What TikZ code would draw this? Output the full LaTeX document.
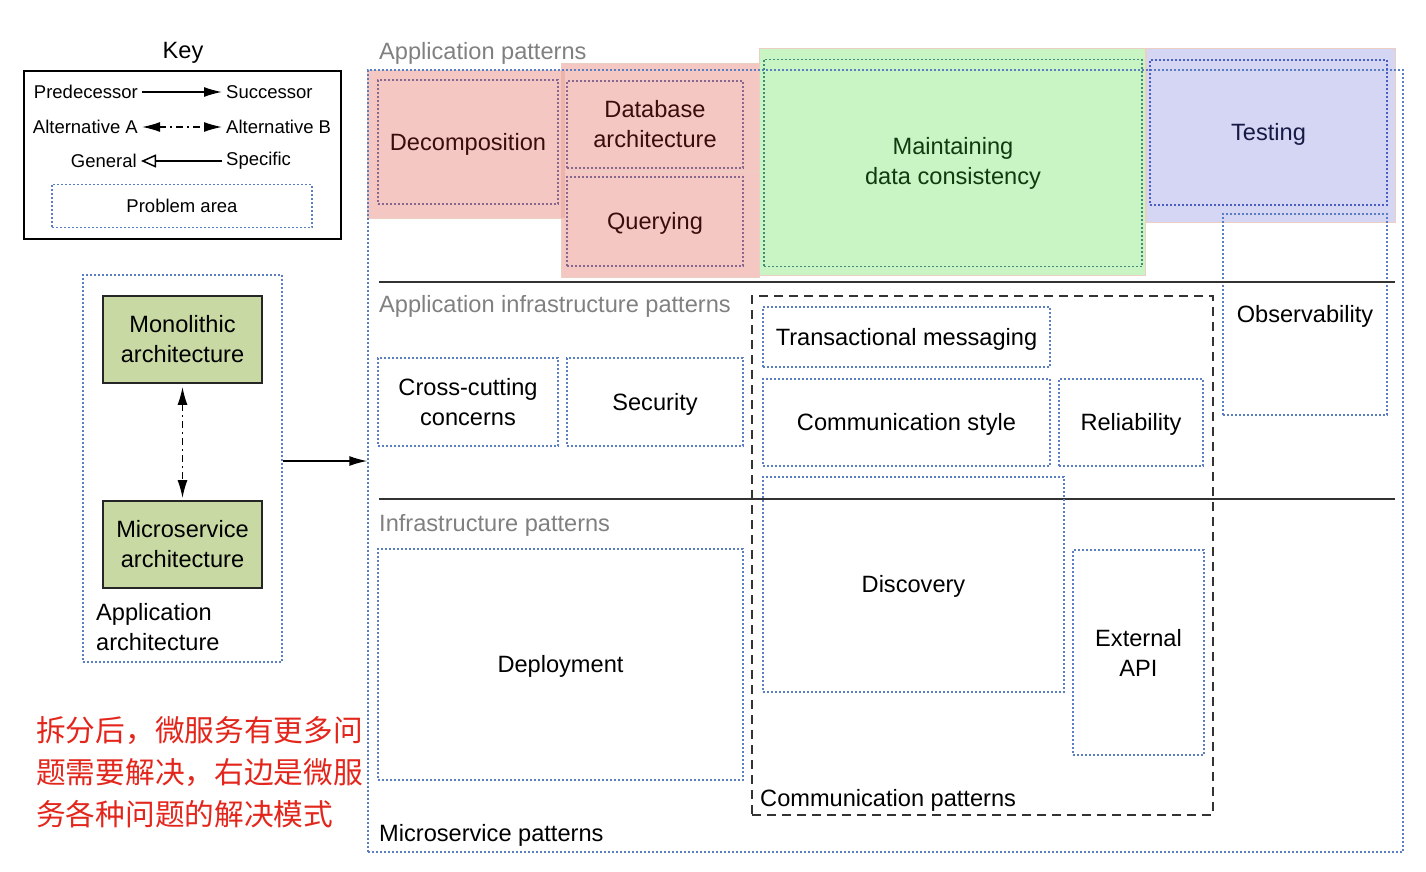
\documentclass[tikz,border=0pt]{standalone}
\usepackage{fontspec}
\setmainfont{Liberation Sans}
\newfontfamily\cjkfont{Noto Sans CJK SC}
\usetikzlibrary{arrows.meta}
\definecolor{pblue}{HTML}{5B7EC2}
\definecolor{pinkfill}{HTML}{F4C7C3}
\definecolor{pinkdark}{HTML}{EDB3AD}
\definecolor{pinkedge}{HTML}{EBCFC2}
\definecolor{greenfill}{HTML}{C9F5C4}
\definecolor{purplefill}{HTML}{D4D6F3}
\definecolor{olivefill}{HTML}{C8D9A3}
\definecolor{graytxt}{HTML}{808080}
\definecolor{cnred}{HTML}{E3261C}
\definecolor{linegray}{HTML}{333333}
\definecolor{pinkdot}{HTML}{85678F}
\definecolor{greendot}{HTML}{3F8C7A}
\definecolor{purpledot}{HTML}{4A5FC4}
\definecolor{pinktxt}{HTML}{3A0D0D}
\definecolor{greentxt}{HTML}{0E3B10}
\definecolor{purpletxt}{HTML}{161A45}
\newcommand\mylabfont{\fontsize{23.6}{30}\selectfont}
\newcommand\mykeyfont{\fontsize{18.5}{22}\selectfont}
\newcommand\mytopstrut{\rule{0pt}{21pt}}
\begin{document}
\begin{tikzpicture}[x=1pt,y=-1pt,
  every node/.style={inner sep=0pt},
  pabase/.style={draw=pblue, line width=1.4pt, dash pattern=on 1.8pt off 2.2pt, align=center},
  pa/.style={pabase, font=\mylabfont, execute at begin node=\mytopstrut},
  sz/.style 2 args={minimum width=#1, minimum height=#2},
  hsep/.style={draw=linegray, line width=2pt},
  lab/.style={font=\mylabfont, align=center},
  grayl/.style={font=\mylabfont, text=graytxt, anchor=west},
  keytxt/.style={font=\mykeyfont, inner sep=4pt},
  arch/.style={draw=black!85, line width=1.8pt, fill=olivefill, align=center, font=\mylabfont, execute at begin node=\mytopstrut},
  arrsolid/.style={line width=1.5pt, -{Latex[length=18pt,width=10pt]}},
  arrdd/.style={line width=1.5pt, {Latex[length=18pt,width=10pt]}-{Latex[length=18pt,width=10pt]}, dash pattern=on 7pt off 4pt on 2pt off 4pt},
  genarr/.style={line width=1.5pt, -{Triangle[open,length=15pt,width=13pt]}},
  region/.style={draw=pinkedge, line width=0.8pt},
  commbox/.style={draw=linegray, line width=1.8pt, dash pattern=on 9pt off 6pt}
]
\useasboundingbox (0,0) rectangle (1426,872);

% ---------- Key ----------
\node[font=\mylabfont] (keytitle) at (183,53) {Key};
\node[draw, line width=1.6pt, sz={317}{168}] (keybox) at (182.5,155) {};
\node[keytxt, anchor=east] (pred) at (142,92) {Predecessor};
\node[keytxt, anchor=west] (succ) at (222,92) {Successor};
\draw[arrsolid] (pred) -- (succ);
\node[keytxt, anchor=east] (altA) at (142,127) {Alternative A};
\node[keytxt, anchor=west] (altB) at (222,127) {Alternative B};
\draw[arrdd] (altA) -- (altB);
\node[keytxt, anchor=east] (general) at (141,161) {General};
\node[keytxt, anchor=west] (specific) at (222,161) {Specific};
\draw[genarr] (specific) -- (general);
\node[pabase, sz={260}{43}, font=\mykeyfont] (probarea) at (182,206) {Problem area};

% ---------- Left panel ----------
\node[pa, sz={199}{387}] (appbox) at (182.5,468.5) {};
\node[arch, sz={159}{87}] (mono) at (182.5,339.5) {Monolithic\\architecture};
\node[arch, sz={159}{87}] (micro) at (182.5,544.5) {Microservice\\architecture};
\draw[arrdd, shorten <=3pt, shorten >=2pt] (mono) -- (micro);
\node[lab, align=left, anchor=west] (applbl) at (96,627) {Application\\architecture};

\node[font=\cjkfont\fontsize{29.7}{42}\selectfont, text=cnred, align=left, anchor=west] (cnnote) at (36,772)
  {拆分后，微服务有更多问\\题需要解决，右边是微服\\务各种问题的解决模式};

% ---------- Colored regions ----------
\filldraw[fill=pinkfill, region] (367,70) rectangle (563,218);
\filldraw[fill=pinkfill, region] (561,63) rectangle (759,171);
\filldraw[fill=pinkfill, region] (561,171) rectangle (759,277);
\fill[pinkdark] (561,70) rectangle (565,218);
\filldraw[fill=greenfill, region] (759,48) rectangle (1145,275);
\filldraw[fill=purplefill, region] (1146,48) rectangle (1395,222);

% ---------- Main box ----------
\node[pa, sz={1035}{782}] (main) at (885.5,461) {};
\draw[arrsolid] (appbox.east |- main.west) -- (main.west);

\node[grayl] (lblapp) at (379,53) {Application patterns};
\node[pa, draw=pinkdot, text=pinktxt, sz={180}{124}] (decomp) at (468,142) {Decomposition};
\node[pa, draw=pinkdot, text=pinktxt, sz={176}{87}] (dbarch) at (655,124.5) {Database\\architecture};
\node[pa, draw=pinkdot, text=pinktxt, sz={176}{89}] (query) at (655,221.5) {Querying};
\node[pa, draw=greendot, text=greentxt, sz={378}{207}] (consist) at (953,163) {Maintaining\\data consistency};
\node[pa, draw=purpledot, text=purpletxt, sz={237}{145}] (testing) at (1268.5,132.5) {Testing};
\node[pa, sz={164}{201}] (obs) at (1305,314.5) {Observability};

\draw[hsep] (379,282) -- (1395,282);
\draw[hsep] (379,499) -- (1395,499);

\node[grayl] (lblinfra) at (379,306) {Application infrastructure patterns};
\node[pa, sz={180}{88}] (cross) at (468,402) {Cross-cutting\\concerns};
\node[pa, sz={176}{88}] (security) at (655,402) {Security};

\node[commbox, sz={461}{519}] (comm) at (982.5,555.5) {};
\node[pa, sz={287}{60}] (txmsg) at (906.5,337) {Transactional messaging};
\node[pa, sz={287}{87}] (commstyle) at (906.5,422.5) {Communication style};
\node[pa, sz={144}{87}] (reliab) at (1131,422.5) {Reliability};
\node[pa, sz={301}{215}] (discovery) at (913.5,584.5) {Discovery};
\node[pa, sz={131}{205}] (extapi) at (1138.5,652.5) {External\\API};
\node[font=\mylabfont, anchor=west] (lblcomm) at (760,800) {Communication patterns};

\node[grayl] (lblinf) at (379,525) {Infrastructure patterns};
\node[pa, sz={365}{231}] (deploy) at (560.5,664.5) {Deployment};

\node[font=\mylabfont, anchor=west] (lblms) at (379,835) {Microservice patterns};
\end{tikzpicture}
\end{document}
